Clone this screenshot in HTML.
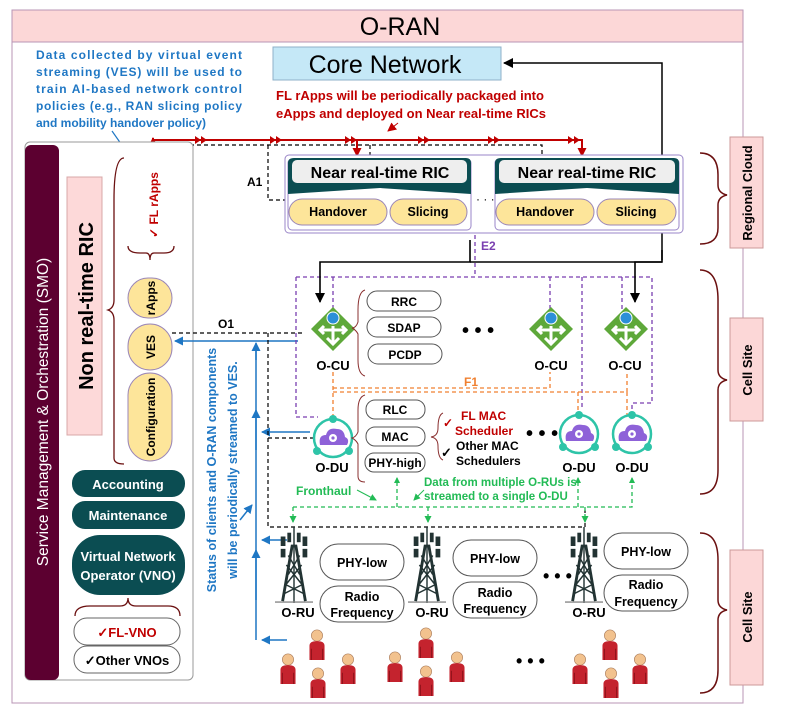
<!DOCTYPE html>
<html><head><meta charset="utf-8"><style>
body{margin:0;background:#fff;}
svg{display:block;font-family:"Liberation Sans",sans-serif;}
</style></head><body>
<svg width="790" height="716" viewBox="0 0 790 716" xmlns="http://www.w3.org/2000/svg">
<defs>
<marker id="ar" markerUnits="userSpaceOnUse" markerWidth="9" markerHeight="9" refX="8" refY="4.5" orient="auto"><path d="M0,0L9,4.5L0,9z" fill="#c00000"/></marker>
<marker id="ab" markerUnits="userSpaceOnUse" markerWidth="9" markerHeight="9" refX="8" refY="4.5" orient="auto"><path d="M0,0L9,4.5L0,9z" fill="#1f77c4"/></marker>
<marker id="ak" markerUnits="userSpaceOnUse" markerWidth="10" markerHeight="10" refX="9" refY="5" orient="auto"><path d="M0,0L10,5L0,10z" fill="#000"/></marker>
<marker id="ag" markerUnits="userSpaceOnUse" markerWidth="7" markerHeight="7" refX="6" refY="3.5" orient="auto"><path d="M0,0L7,3.5L0,7z" fill="#22bb55"/></marker>
<symbol id="user" viewBox="0 0 20 34"><circle cx="10" cy="8" r="6" fill="#f2c28e" stroke="#a07050" stroke-width=".6"/><path d="M2,34 L2,19 Q2,14 10,14 Q18,14 18,19 L18,34z" fill="#c4232e"/><path d="M4,34 L4,22 M16,34 L16,22" stroke="#8a1018" stroke-width="1"/></symbol>
<symbol id="tower" viewBox="0 0 40 80"><path d="M20,0V80" stroke="#233" stroke-width="1.5"/><path d="M8,78 L18,20 L22,20 L32,78" fill="none" stroke="#223333" stroke-width="3"/><path d="M12,60L28,40M12,40L28,60M14,50L26,30M14,30L26,50M10,70L30,60M10,60L30,70" stroke="#223333" stroke-width="1.5"/><rect x="6" y="10" width="5" height="10" fill="#223333"/><rect x="29" y="10" width="5" height="10" fill="#223333"/><rect x="13" y="6" width="4" height="10" fill="#223333"/><rect x="23" y="6" width="4" height="10" fill="#223333"/><rect x="6" y="23" width="5" height="9" fill="#223333"/><rect x="29" y="23" width="5" height="9" fill="#223333"/><path d="M0,79H40" stroke="#888" stroke-width="1.5"/></symbol>
<symbol id="cu" viewBox="0 0 46 46"><path d="M23,1L45,23L23,45L1,23z" fill="#5ea83a"/><path d="M23,20V38M17,32L23,38L29,32M23,24H10M14,20L10,24L14,28M23,24H36M32,20L36,24L32,28" stroke="#fff" stroke-width="3" fill="none"/><circle cx="23" cy="12" r="6" fill="#2b8fd8" stroke="#fff" stroke-width="1"/></symbol>
<symbol id="du" viewBox="0 0 46 46"><circle cx="23" cy="23" r="19" fill="none" stroke="#2ec4a8" stroke-width="2.5"/><circle cx="23" cy="4" r="4" fill="#2ec4a8"/><circle cx="7" cy="36" r="4" fill="#2ec4a8"/><circle cx="39" cy="36" r="4" fill="#2ec4a8"/><path d="M10,30 Q8,20 16,20 Q18,12 27,14 Q34,14 35,22 Q40,24 37,30z" fill="#8e62d8"/><circle cx="23" cy="23" r="4" fill="#fff"/><circle cx="23" cy="23" r="1.6" fill="#8e62d8"/></symbol>
</defs>

<rect x="12" y="42" width="731" height="661" fill="#fff" stroke="#b895b5" stroke-width="1"/>
<rect x="12" y="10" width="731" height="32" fill="#fcd7d7" stroke="#b895b5"/>
<text x="400" y="35" font-size="25" text-anchor="middle">O-RAN</text>

<rect x="273" y="47" width="228" height="33" fill="#c5e8f7" stroke="#8fb0c8"/>
<text x="385" y="73" font-size="25" text-anchor="middle">Core Network</text>
<path d="M662,260V63H504" stroke="#000" stroke-width="1.5" fill="none" marker-end="url(#ak)"/>

<g fill="#1f77c4" font-size="12" font-weight="bold">
<text x="36" y="59" textLength="206" lengthAdjust="spacing">Data collected by virtual event</text>
<text x="36" y="76" textLength="206" lengthAdjust="spacing">streaming (VES) will be used to</text>
<text x="36" y="93" textLength="206" lengthAdjust="spacing">train AI-based network control</text>
<text x="36" y="110" textLength="206" lengthAdjust="spacing">policies (e.g., RAN slicing policy</text>
<text x="36" y="127">and mobility handover policy)</text>
</g>
<path d="M112,131L145,178" stroke="#1f77c4" stroke-width="1.2" marker-end="url(#ab)"/>

<g fill="#c00000" font-size="13" font-weight="bold">
<text x="276" y="100" textLength="268" lengthAdjust="spacingAndGlyphs">FL rApps will be periodically packaged into</text>
<text x="276" y="118" textLength="270" lengthAdjust="spacingAndGlyphs">eApps and deployed on Near real-time RICs</text>
</g>
<path d="M398,123L388,131" stroke="#c00000" marker-end="url(#ar)"/>
<path d="M153,178V140H583" stroke="#c00000" stroke-width="2" fill="none"/>
<path d="M153,160V138" stroke="#c00000" stroke-width="2" marker-end="url(#ar)"/>
<path d="M357,140V156" stroke="#c00000" stroke-width="2" marker-end="url(#ar)"/>
<path d="M582,140V156" stroke="#c00000" stroke-width="2" marker-end="url(#ar)"/>
<g fill="#c00000"><path d="M195,136l6,4l-6,4zM201,136l6,4l-6,4zM270,136l6,4l-6,4zM276,136l6,4l-6,4zM345,136l6,4l-6,4zM351,136l6,4l-6,4zM418,136l6,4l-6,4zM424,136l6,4l-6,4zM488,136l6,4l-6,4zM494,136l6,4l-6,4zM568,136l6,4l-6,4zM574,136l6,4l-6,4z"/></g>

<path d="M183,145H542V160M370,145V160M268,145V200H285" stroke="#000" stroke-width="1.2" stroke-dasharray="4,3" fill="none"/>
<text x="247" y="186" font-size="12" font-weight="bold">A1</text>

<rect x="25" y="142" width="168" height="538" rx="5" fill="#fff" stroke="#999"/>
<rect x="25" y="145" width="34" height="535" rx="6" fill="#5c0030"/>
<text transform="translate(48,412) rotate(-90)" font-size="15.5" fill="#fff" text-anchor="middle">Service Management &amp; Orchestration (SMO)</text>
<rect x="67" y="177" width="35" height="258" fill="#fdd9d9" stroke="#d8a8a8"/>
<text transform="translate(93,306) rotate(-90)" font-size="20" font-weight="bold" text-anchor="middle">Non real-time RIC</text>
<path d="M124,158 Q114,158 114,200 L114,300 Q114,308 108,310 Q114,312 114,320 L114,458 Q114,464 124,464" stroke="#6b1010" stroke-width="1.3" fill="none"/>
<path d="M128,246 Q128,253 140,253 L146,253 Q150,253 150,260 Q150,253 154,253 L164,253 Q174,253 174,246" stroke="#6b1010" stroke-width="1.3" fill="none"/>
<text transform="translate(158,205) rotate(-90)" font-size="12" font-weight="bold" fill="#c00000" text-anchor="middle">✓ FL rApps</text>
<rect x="128" y="278" width="44" height="40" rx="20" fill="#fde59a" stroke="#9a86b8"/>
<text transform="translate(155,298) rotate(-90)" font-size="12" font-weight="bold" text-anchor="middle">rApps</text>
<rect x="128" y="324" width="44" height="46" rx="22" fill="#fde59a" stroke="#9a86b8"/>
<text transform="translate(155,347) rotate(-90)" font-size="12" font-weight="bold" text-anchor="middle">VES</text>
<rect x="128" y="373" width="44" height="88" rx="22" fill="#fde59a" stroke="#9a86b8"/>
<text transform="translate(155,417) rotate(-90)" font-size="12" font-weight="bold" text-anchor="middle">Configuration</text>
<rect x="72" y="470" width="113" height="27" rx="13" fill="#0b4d52"/>
<text x="128" y="489" font-size="13" font-weight="bold" fill="#fff" text-anchor="middle">Accounting</text>
<rect x="72" y="501" width="113" height="28" rx="13" fill="#0b4d52"/>
<text x="128" y="520" font-size="13" font-weight="bold" fill="#fff" text-anchor="middle">Maintenance</text>
<rect x="72" y="535" width="113" height="60" rx="28" fill="#0b4d52"/>
<text x="128" y="561" font-size="13" font-weight="bold" fill="#fff" text-anchor="middle">Virtual Network</text>
<text x="128" y="580" font-size="13" font-weight="bold" fill="#fff" text-anchor="middle">Operator (VNO)</text>
<path d="M75,616 Q75,606 90,606 L120,606 Q128,606 128,598 Q128,606 136,606 L168,606 Q180,606 180,616" stroke="#6b1010" stroke-width="1.3" fill="none"/>
<rect x="74" y="618" width="106" height="27" rx="13" fill="#fff" stroke="#666"/>
<text x="127" y="637" font-size="13" font-weight="bold" fill="#c00000" text-anchor="middle">✓FL-VNO</text>
<rect x="74" y="646" width="106" height="27" rx="13" fill="#fff" stroke="#666"/>
<text x="127" y="665" font-size="13" font-weight="bold" text-anchor="middle">✓Other VNOs</text>

<text transform="translate(216,470) rotate(-90)" font-size="12.5" font-weight="bold" fill="#1f77c4" text-anchor="middle">Status of clients and O-RAN components</text>
<text transform="translate(237,470) rotate(-90)" font-size="12.5" font-weight="bold" fill="#1f77c4" text-anchor="middle">will be periodically streamed to VES.</text>
<g stroke="#1f77c4" stroke-width="1.5" fill="none">
<path d="M256,640V345"/>
<path d="M256,360V343" marker-end="url(#ab)"/>
<path d="M256,450V410" marker-end="url(#ab)"/>
<path d="M256,600V550" marker-end="url(#ab)"/>
<path d="M298,341H175" marker-end="url(#ab)"/>
<path d="M310,432H262" marker-end="url(#ab)"/>
<path d="M287,540H262" marker-end="url(#ab)"/>
<path d="M287,640H262" marker-end="url(#ab)"/>
<path d="M240,520L252,505" marker-end="url(#ab)"/>
</g>
<path d="M172,333H305M268,333V527H585V510M268,438H313" stroke="#000" stroke-width="1.2" stroke-dasharray="4,3" fill="none"/>
<text x="218" y="328" font-size="12" font-weight="bold">O1</text>

<rect x="285" y="155" width="398" height="78" rx="4" fill="#fff" stroke="#9a86c8"/>
<rect x="288" y="159" width="183" height="71" rx="4" fill="#fff" stroke="#9a86c8"/>
<rect x="495" y="159" width="184" height="71" rx="4" fill="#fff" stroke="#9a86c8"/>
<path d="M288,163 Q288,158 294,158 H466 Q471,158 471,163 V194 L380,188 L288,194z" fill="#0b4d52"/>
<path d="M495,163 Q495,158 501,158 H674 Q679,158 679,163 V194 L587,188 L495,194z" fill="#0b4d52"/>
<rect x="292" y="160" width="175" height="23" rx="5" fill="#eee"/>
<rect x="499" y="160" width="176" height="23" rx="5" fill="#eee"/>
<text x="380" y="178" font-size="16" font-weight="bold" text-anchor="middle">Near real-time RIC</text>
<text x="587" y="178" font-size="16" font-weight="bold" text-anchor="middle">Near real-time RIC</text>
<g fill="#fde59a" stroke="#9a86b8"><rect x="289" y="199" width="98" height="26" rx="13"/><rect x="390" y="199" width="77" height="26" rx="13"/><rect x="496" y="199" width="98" height="26" rx="13"/><rect x="597" y="199" width="79" height="26" rx="13"/></g>
<g font-size="12.5" font-weight="bold" text-anchor="middle"><text x="338" y="216">Handover</text><text x="428" y="216">Slicing</text><text x="545" y="216">Handover</text><text x="636" y="216">Slicing</text></g>
<text x="476" y="203" font-size="12">· · ·</text>

<path d="M700,153 Q718,153 718,175 L718,185 Q718,193 727,195 Q718,197 718,205 L718,228 Q718,244 700,244" stroke="#6b1010" stroke-width="1.5" fill="none"/>
<rect x="730" y="137" width="33" height="111" fill="#fcd7d7" stroke="#c99"/>
<text transform="translate(752,193) rotate(-90)" font-size="13" font-weight="bold" text-anchor="middle">Regional Cloud</text>
<path d="M700,270 Q718,270 718,300 L718,370 Q718,378 727,380 Q718,382 718,390 L718,470 Q718,494 700,494" stroke="#6b1010" stroke-width="1.5" fill="none"/>
<rect x="730" y="318" width="33" height="103" fill="#fcd7d7" stroke="#c99"/>
<text transform="translate(752,370) rotate(-90)" font-size="13" font-weight="bold" text-anchor="middle">Cell Site</text>
<path d="M700,533 Q718,533 718,560 L718,600 Q718,608 727,610 Q718,612 718,620 L718,670 Q718,693 700,693" stroke="#6b1010" stroke-width="1.5" fill="none"/>
<rect x="730" y="550" width="33" height="135" fill="#fcd7d7" stroke="#c99"/>
<text transform="translate(752,617) rotate(-90)" font-size="13" font-weight="bold" text-anchor="middle">Cell Site</text>

<g stroke="#7a3fb0" stroke-width="1.3" stroke-dasharray="4,3" fill="none">
<path d="M475,235V277"/>
<path d="M296,277H652V403H632V412"/>
<path d="M296,277V417H318"/>
<path d="M333,277V310"/>
<path d="M550,277V310"/>
<path d="M582,277V410"/>
<path d="M622,277V310"/>
</g>
<text x="481" y="250" font-size="12" font-weight="bold" fill="#7a3fb0">E2</text>
<path d="M470,240V262H320V302" stroke="#000" stroke-width="1.6" fill="none" marker-end="url(#ak)"/>
<path d="M662,250V262H635V302" stroke="#000" stroke-width="1.6" fill="none" marker-end="url(#ak)"/>
<path d="M470,262H662" stroke="#000" stroke-width="1.6"/>

<g stroke="#f08030" stroke-width="1.3" stroke-dasharray="4,3" fill="none">
<path d="M333,372V420"/><path d="M333,388H550V372"/><path d="M333,392H627V372"/><path d="M578,392V415M627,392V415"/>
</g>
<text x="464" y="386" font-size="12" font-weight="bold" fill="#f08030">F1</text>

<use href="#cu" x="310" y="306" width="46" height="46"/>
<use href="#cu" x="528" y="306" width="46" height="46"/>
<use href="#cu" x="603" y="306" width="46" height="46"/>
<g font-size="13" font-weight="bold" text-anchor="middle"><text x="333" y="370">O-CU</text><text x="551" y="370">O-CU</text><text x="625" y="370">O-CU</text>
<text x="332" y="472">O-DU</text><text x="579" y="472">O-DU</text><text x="632" y="472">O-DU</text></g>
<path d="M365,290 Q358,292 358,310 L358,322 Q356,328 352,328 Q356,330 358,334 L358,360 Q358,374 365,376" stroke="#8a3030" fill="none"/>
<g fill="#fff" stroke="#555"><rect x="367" y="291" width="74" height="20" rx="10"/><rect x="367" y="317" width="74" height="20" rx="10"/><rect x="368" y="344" width="74" height="20" rx="10"/></g>
<g font-size="12" font-weight="bold" text-anchor="middle"><text x="404" y="306">RRC</text><text x="404" y="332">SDAP</text><text x="405" y="359">PCDP</text></g>
<text x="462" y="337" font-size="20" font-weight="bold">• • •</text>

<use href="#du" x="310" y="415" width="46" height="46"/>
<use href="#du" x="556" y="411" width="46" height="46"/>
<use href="#du" x="609" y="411" width="46" height="46"/>
<path d="M365,395 Q358,397 358,410 L358,432 Q356,437 352,438 Q356,440 358,444 L358,476 Q358,482 365,482" stroke="#8a3030" fill="none"/>
<g fill="#fff" stroke="#555"><rect x="366" y="400" width="59" height="19" rx="9"/><rect x="366" y="427" width="59" height="19" rx="9"/><rect x="365" y="453" width="60" height="19" rx="9"/></g>
<g font-size="12" font-weight="bold" text-anchor="middle"><text x="395" y="414">RLC</text><text x="395" y="441">MAC</text><text x="395" y="467">PHY-high</text></g>
<path d="M443,413 Q438,415 438,428 Q438,436 431,437 Q438,438 438,446 Q438,458 443,460" stroke="#8a3030" fill="none"/>
<text x="443" y="427" font-size="12" font-weight="bold" fill="#c00000">✓</text>
<text x="461" y="420" font-size="12" font-weight="bold" fill="#c00000">FL MAC</text>
<text x="455" y="435" font-size="12" font-weight="bold" fill="#c00000">Scheduler</text>
<text x="441" y="457" font-size="13" font-weight="bold">✓</text>
<text x="456" y="450" font-size="12" font-weight="bold">Other MAC</text>
<text x="456" y="465" font-size="12" font-weight="bold">Schedulers</text>
<text x="526" y="440" font-size="20" font-weight="bold">• • •</text>

<g stroke="#22bb55" stroke-width="1.3" stroke-dasharray="4,3" fill="none">
<path d="M293,507H632V478"/>
<path d="M293,507V522" marker-end="url(#ag)"/>
<path d="M428,507V522" marker-end="url(#ag)"/>
<path d="M585,507V522" marker-end="url(#ag)"/>
<path d="M397,507V478"/><path d="M578,507V478"/>
</g>
<g fill="#22bb55"><path d="M394,483l3,-6l3,6z"/><path d="M575,483l3,-6l3,6z"/><path d="M629,483l3,-6l3,6z"/></g>
<text x="296" y="495" font-size="12" font-weight="bold" fill="#22bb55">Fronthaul</text>
<path d="M357,490L376,500" stroke="#22bb55" marker-end="url(#ag)"/>
<path d="M424,490L414,500" stroke="#22bb55" marker-end="url(#ag)"/>
<text x="424" y="486" font-size="11.5" font-weight="bold" fill="#22bb55">Data from multiple O-RUs is</text>
<text x="424" y="500" font-size="11.5" font-weight="bold" fill="#22bb55">streamed to a single O-DU</text>

<use href="#tower" x="272" y="527" width="44" height="76"/>
<use href="#tower" x="405" y="527" width="44" height="76"/>
<use href="#tower" x="562" y="527" width="44" height="76"/>
<g font-size="13" font-weight="bold" text-anchor="middle"><text x="298" y="617">O-RU</text><text x="432" y="617">O-RU</text><text x="589" y="617">O-RU</text></g>
<g fill="#fff" stroke="#555"><rect x="320" y="544" width="84" height="36" rx="18"/><rect x="320" y="586" width="84" height="36" rx="18"/><rect x="453" y="540" width="84" height="36" rx="18"/><rect x="453" y="582" width="84" height="36" rx="18"/><rect x="604" y="533" width="84" height="36" rx="18"/><rect x="604" y="575" width="84" height="36" rx="18"/></g>
<g font-size="12.5" font-weight="bold" text-anchor="middle">
<text x="362" y="567">PHY-low</text><text x="362" y="601">Radio</text><text x="362" y="617">Frequency</text>
<text x="495" y="563">PHY-low</text><text x="495" y="597">Radio</text><text x="495" y="613">Frequency</text>
<text x="646" y="556">PHY-low</text><text x="646" y="589">Radio</text><text x="646" y="606">Frequency</text></g>
<text x="543" y="582" font-size="18" font-weight="bold">• • •</text>
<text x="516" y="667" font-size="18" font-weight="bold">• • •</text>

<g>
<use href="#user" x="307" y="628" width="20" height="32"/>
<use href="#user" x="278" y="652" width="20" height="32"/>
<use href="#user" x="308" y="666" width="20" height="32"/>
<use href="#user" x="338" y="652" width="20" height="32"/>
<use href="#user" x="385" y="650" width="20" height="32"/>
<use href="#user" x="416" y="626" width="20" height="32"/>
<use href="#user" x="416" y="664" width="20" height="32"/>
<use href="#user" x="447" y="650" width="20" height="32"/>
<use href="#user" x="570" y="652" width="20" height="32"/>
<use href="#user" x="600" y="628" width="20" height="32"/>
<use href="#user" x="601" y="666" width="20" height="32"/>
<use href="#user" x="630" y="652" width="20" height="32"/>
</g>
</svg>
</body></html>
